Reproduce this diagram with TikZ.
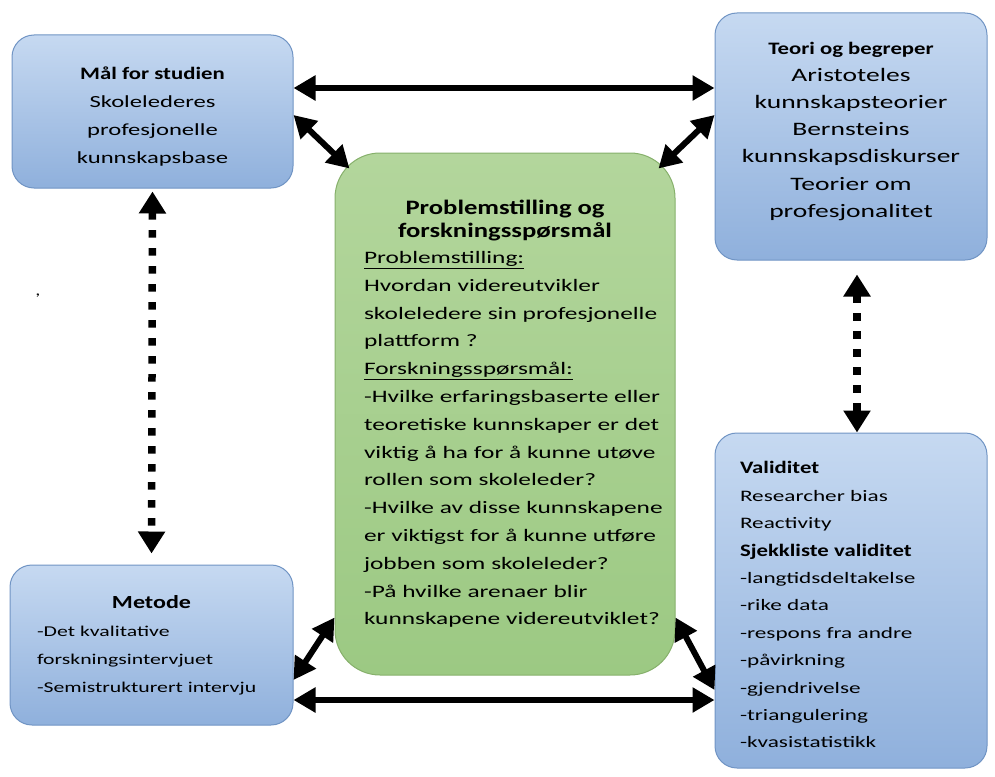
\documentclass[tikz,border=0pt]{standalone}
\usepackage{fontspec}
\setmainfont{Carlito}[FakeStretch=1.45]
\newfontfamily\fetskrift{Carlito}[FakeStretch=1.3]
\newcommand{\fet}[2][17]{{\fetskrift\bfseries\fontsize{#1}{\the\baselineskip}\selectfont #2}}
\usetikzlibrary{arrows.meta}
\definecolor{blaatopp}{HTML}{C6D9F1}
\definecolor{blaabunn}{HTML}{8FB0DC}
\definecolor{blaakant}{HTML}{7094C4}
\definecolor{gronntopp}{HTML}{B3D69C}
\definecolor{gronnbunn}{HTML}{9CC983}
\definecolor{gronnkant}{HTML}{86B06B}
\tikzset{
  boks/.style   = {rectangle, rounded corners=22pt, draw=blaakant, line width=1pt, top color=blaatopp, bottom color=blaabunn, inner sep=0pt},
  hoved/.style  = {boks, rounded corners=45pt, draw=gronnkant, top color=gronntopp, bottom color=gronnbunn},
  pil/.style    = {line width=6pt, {Triangle[length=22pt, width=24pt]}-{Triangle[length=22pt, width=24pt]}},
  prikk/.style  = {line width=7.5pt, dash pattern=on 7.5pt off 10.5pt, {Triangle[length=22pt, width=26pt]}-{Triangle[length=22pt, width=26pt]}}
}

\begin{document}
\begin{tikzpicture}[x=1pt, y=-1pt]
  \useasboundingbox (0,0) rectangle (995,776);

  % bokser
  \node[boks, minimum width=281pt, minimum height=153pt, align=center, font=\fontsize{17}{28}\selectfont] (mal) at (152.5,111.5)
    {\rule{0pt}{23pt}\fet[17.5]{Mål for studien}\\Skolelederes\\profesjonelle\\kunnskapsbase};
  \node[boks, minimum width=272pt, minimum height=247pt, align=center, font=\fontsize{19}{27.2}\selectfont] (teori) at (851,136.5)
    {\fet[17.5]{Teori og begreper}\\Aristoteles\\kunnskapsteorier\\Bernsteins\\kunnskapsdiskurser\\Teorier om\\profesjonalitet\rule[-14pt]{0pt}{1pt}};
  \node[boks, minimum width=283pt, minimum height=160pt, text width=263pt, inner xsep=10pt, align=left, font=\fontsize{15}{28}\selectfont] (metode) at (151.5,645)
    {{\centering\fet[18.5]{Metode}\par}\leftskip=17pt -Det kvalitative\\forskningsintervjuet\\-Semistrukturert intervju\par};
  \node[boks, minimum width=272pt, minimum height=335pt, text width=222pt, inner xsep=25pt, align=left, font=\fontsize{16}{27.4}\selectfont] (valid) at (851,600.5)
    {\rule{0pt}{21pt}\fet[17.5]{Validitet}\\Researcher bias\\Reactivity\\\fet[17.5]{Sjekkliste validitet}\\-langtidsdeltakelse\\-rike data\\-respons fra andre\\-påvirkning\\-gjendrivelse\\-triangulering\\-kvasistatistikk\par};

  % midten
  \node[hoved, minimum width=340pt, minimum height=522pt, text width=332pt, inner xsep=4pt, align=left, font=\fontsize{17.5}{27.8}\selectfont] (prob) at (505,414)
    {{\centering\fontsize{20.5}{23}\selectfont\fet[20.5]{Problemstilling og}\\\fet[20.5]{forskningsspørsmål}\par}\vspace{-2pt}%
     \leftskip=25pt \underline{Problemstilling:}\\Hvordan videreutvikler\\skoleledere sin profesjonelle\\plattform ?\\%
     \underline{Forskningsspørsmål:}\\-Hvilke erfaringsbaserte eller\\teoretiske kunnskaper er det\\viktig å ha for å kunne utøve\\rollen som skoleleder?\\%
     -Hvilke av disse kunnskapene\\er viktigst for å kunne utføre\\jobben som skoleleder?\\-På hvilke arenaer blir\\kunnskapene videreutviklet?\par};

  \node[font=\fontsize{14}{14}\selectfont] (komma) at (38,296) {,};

  % piler
  \draw[pil] ([shift={(0,-23.5)}]mal.east) -- ([shift={(0,-23.5)}]mal.east -| teori.west);
  \draw[pil] ([shift={(0,55)}]metode.east) -- ([shift={(0,55)}]metode.east -| valid.west);
  \draw[pil] ([shift={(0,3.5)}]mal.east) -- ([shift={(15,16)}]prob.north west);
  \draw[pil] ([shift={(0,-21.5)}]teori.west) -- ([shift={(-17,16)}]prob.north east);
  \draw[pil] ([shift={(0,35)}]metode.east) -- ([shift={(0,-58)}]prob.south west);
  \draw[pil] ([shift={(0,89.5)}]valid.west) -- ([shift={(0,-58)}]prob.south east);

  % stiplede
  \draw[prikk, shorten <=3pt, shorten >=11pt] (mal.south) -- (metode.north);
  \draw[prikk, shorten <=14pt] ([xshift=6pt]teori.south) -- ([xshift=6pt]valid.north);

\end{tikzpicture}
\end{document}
